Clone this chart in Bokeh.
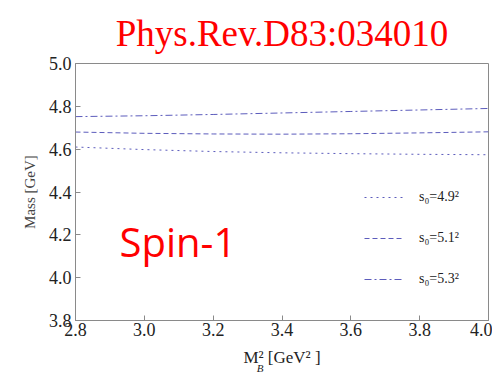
from bokeh.plotting import figure
from bokeh.models import Label, Legend, LegendItem, Range1d, FixedTicker, LinearAxis, PrintfTickFormatter
from bokeh.embed import file_html
from bokeh.resources import INLINE

# Data
mb2 = [2.8, 3.0, 3.2, 3.4, 3.6, 3.8, 4.0]
mass_s49 = [4.610, 4.598, 4.589, 4.583, 4.579, 4.576, 4.574]
mass_s51 = [4.680, 4.674, 4.671, 4.670, 4.672, 4.676, 4.681]
mass_s53 = [4.752, 4.756, 4.762, 4.769, 4.776, 4.783, 4.790]
series_labels = ["s\u2080=4.9\u00b2", "s\u2080=5.1\u00b2", "s\u2080=5.3\u00b2"]
x_ticks = [2.8, 3.0, 3.2, 3.4, 3.6, 3.8, 4.0]
y_ticks = [3.8, 4.0, 4.2, 4.4, 4.6, 4.8, 5.0]

SERIF = "Liberation Serif"
LINE_COLOR = "#5c5cbc"

p = figure(width=492, height=381, output_backend="svg", toolbar_location=None,
           x_range=Range1d(2.8, 4.0), y_range=Range1d(3.8, 5.0),
           min_border_left=75, min_border_right=4, min_border_top=63,
           min_border_bottom=61)
p.background_fill_color = "white"
p.border_fill_color = "white"
p.outline_line_color = "#8a8a8a"
p.grid.visible = False

p.title.text = "Phys.Rev.D83:034010"
p.title.text_font = SERIF
p.title.text_font_size = "37px"
p.title.text_font_style = "normal"
p.title.text_color = "red"
p.title.align = "center"
p.title.standoff = 20
p.title.offset = -5

p.axis.axis_line_color = "#8a8a8a"
p.axis.major_tick_line_color = "#8a8a8a"
p.axis.major_tick_in = 5
p.axis.major_tick_out = 0
p.axis.minor_tick_line_color = None
p.xaxis.ticker = FixedTicker(ticks=x_ticks)
p.yaxis.ticker = FixedTicker(ticks=y_ticks)
p.axis.formatter = PrintfTickFormatter(format="%.1f")
p.axis.major_label_text_font = SERIF
p.axis.major_label_text_font_size = "18px"
p.axis.major_label_text_font_style = "normal"
p.axis.major_label_text_color = "#222222"
p.xaxis.major_label_standoff = 2
p.yaxis.major_label_standoff = 4

p.yaxis.axis_label = "Mass [GeV]"
p.yaxis.axis_label_text_font = SERIF
p.yaxis.axis_label_text_font_size = "15px"
p.yaxis.axis_label_text_font_style = "normal"
p.yaxis.axis_label_text_color = "#444444"
p.yaxis.axis_label_standoff = 8

NB = "\u00a0"
p.xaxis.axis_label = "M\u00b2" + NB + "[GeV\u00b2" + NB + "]"
p.xaxis.axis_label_text_font = SERIF
p.xaxis.axis_label_text_font_size = "17px"
p.xaxis.axis_label_text_font_style = "normal"
p.xaxis.axis_label_text_color = "#222222"
p.xaxis.axis_label_standoff = 9

# subscript B of M_B^2 as the label of a bare second axis
sub_axis = LinearAxis(ticker=FixedTicker(ticks=[]), axis_line_color=None,
                      major_tick_line_color=None, minor_tick_line_color=None,
                      major_label_text_font_size="0px",
                      axis_label="B" + NB * 16, axis_label_text_font=SERIF,
                      axis_label_text_font_size="11px", axis_label_text_font_style="italic",
                      axis_label_text_color="#222222", axis_label_standoff=-8)
p.add_layout(sub_axis, "below")

r1 = p.line(mb2, mass_s49, line_color=LINE_COLOR, line_width=1, line_dash="2 4")
r2 = p.line(mb2, mass_s51, line_color=LINE_COLOR, line_width=1, line_dash="5 3")
r3 = p.line(mb2, mass_s53, line_color=LINE_COLOR, line_width=1, line_dash="7 3 2 3")

legend = Legend(items=[LegendItem(label=series_labels[0], renderers=[r1]),
                       LegendItem(label=series_labels[1], renderers=[r2]),
                       LegendItem(label=series_labels[2], renderers=[r3])],
                location=(289, 31), glyph_width=40, glyph_height=20,
                label_height=20, label_standoff=15, spacing=21, padding=0, margin=0,
                border_line_color=None, background_fill_alpha=0,
                label_text_font=SERIF, label_text_font_size="14px",
                label_text_color="#222222")
p.add_layout(legend, "center")

# Spin-1
p.add_layout(Label(x=2.928, y=4.17, text="Spin-1", text_font="Open Sans",
                   text_font_size="40px", text_color="red", text_align="left",
                   text_baseline="alphabetic"))

open("out.html", "w").write(file_html(p, INLINE))
